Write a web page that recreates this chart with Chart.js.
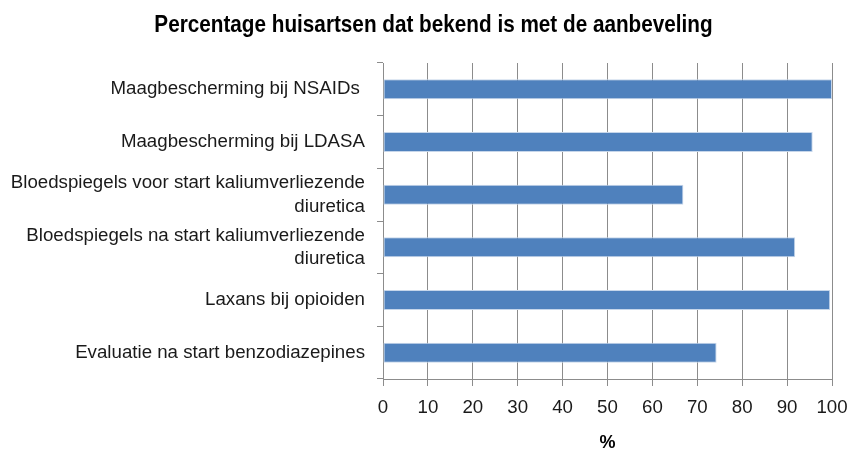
<!DOCTYPE html>
<html>
<head>
<meta charset="utf-8">
<script src="https://cdn.jsdelivr.net/npm/chart.js@4/dist/chart.umd.min.js"></script>
<style>
html,body{margin:0;padding:0;background:#fff;}
#wrap{width:848px;height:454px;}
</style>
</head>
<body>
<div id="wrap"><canvas id="c" width="848" height="454"></canvas></div>
<script>
const chartTitle = 'Percentage huisartsen dat bekend is met de aanbeveling';
const categories = [
  'Maagbescherming bij NSAIDs ',
  'Maagbescherming bij LDASA',
  ['Bloedspiegels voor start kaliumverliezende', 'diuretica'],
  ['Bloedspiegels na start kaliumverliezende', 'diuretica'],
  'Laxans bij opioiden',
  'Evaluatie na start benzodiazepines'
];
const values = [100, 95.7, 66.9, 91.8, 99.6, 74.3];
const xTicks = [0, 10, 20, 30, 40, 50, 60, 70, 80, 90, 100];
const xAxisTitle = '%';

const labelFont = { family: "'Liberation Sans', Arial, sans-serif", size: 18.7, lineHeight: 1.28 };

// Condensed bold title drawn as canvas text (reference uses a narrow bold face)
const condensedTitle = {
  id: 'condensedTitle',
  afterDraw(chart) {
    const ctx = chart.ctx;
    ctx.save();
    ctx.font = "bold 24px 'Liberation Sans', Arial, sans-serif";
    ctx.fillStyle = '#000';
    ctx.textAlign = 'center';
    ctx.textBaseline = 'alphabetic';
    const sx = 0.863;
    ctx.translate(433.5, 31.5);
    ctx.scale(sx, 1);
    ctx.fillText(chartTitle, 0, 0);
    ctx.restore();
  }
};

new Chart(document.getElementById('c'), {
  type: 'bar',
  data: {
    labels: categories,
    datasets: [{
      data: values,
      backgroundColor: '#4f81bd',
      borderColor: '#c6d6ea',
      borderWidth: 1,
      borderSkipped: false,
      barPercentage: 0.38,
      categoryPercentage: 1.0
    }]
  },
  plugins: [condensedTitle],
  options: {
    indexAxis: 'y',
    responsive: false,
    animation: false,
    devicePixelRatio: 1,
    layout: { padding: { left: 0, right: 16, top: 63, bottom: 0 } },
    plugins: {
      legend: { display: false },
      tooltip: { enabled: false },
      title: { display: false }
    },
    scales: {
      x: {
        type: 'linear',
        min: 0,
        max: 100,
        afterBuildTicks: (scale) => { scale.ticks = xTicks.map(v => ({ value: v })); },
        afterFit: (scale) => { scale.height = 75; scale.paddingRight = 0; scale.paddingLeft = 0; },
        grid: {
          display: true,
          color: '#8c8c8c',
          lineWidth: 1,
          drawTicks: true,
          tickLength: 7
        },
        border: { display: true, color: '#8c8c8c', width: 1 },
        ticks: {
          color: '#1a1a1a',
          font: labelFont,
          padding: 10,
          maxRotation: 0,
          autoSkip: false
        },
        title: {
          display: true,
          text: xAxisTitle,
          color: '#000',
          font: { family: "'Liberation Sans', Arial, sans-serif", size: 18, weight: 'bold', lineHeight: 1.2 },
          padding: { top: 2, bottom: 0 }
        }
      },
      y: {
        afterFit: (scale) => { scale.width = 383; scale.paddingTop = 0; scale.paddingBottom = 0; },
        grid: {
          display: true,
          drawOnChartArea: false,
          drawTicks: true,
          tickLength: 6,
          color: '#8c8c8c',
          offset: true
        },
        border: { display: true, color: '#8c8c8c', width: 1 },
        ticks: {
          color: '#1a1a1a',
          font: labelFont,
          padding: 12,
          autoSkip: false
        }
      }
    }
  }
});
</script>
</body>
</html>
